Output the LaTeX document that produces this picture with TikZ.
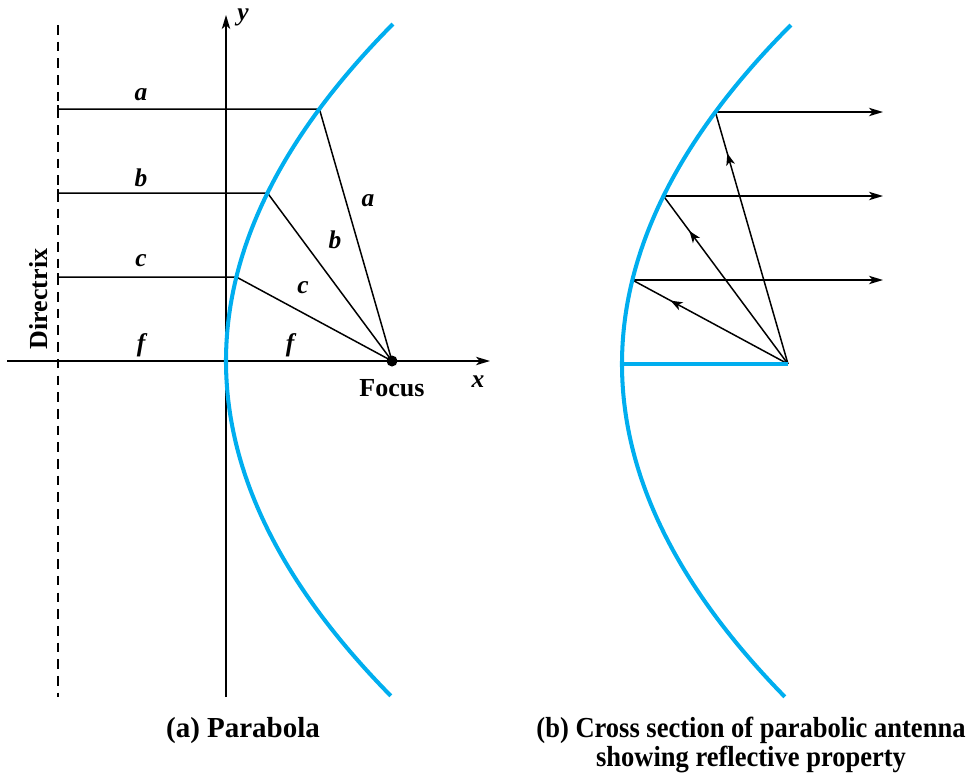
\documentclass[tikz,border=0pt]{standalone}
\usepackage{fontspec}
\setmainfont{Liberation Serif}
\newfontfamily\narrowserif[FakeStretch=0.915]{Liberation Serif}
\usetikzlibrary{arrows.meta,decorations.markings}
\definecolor{parab}{RGB}{0,174,239}
\begin{document}
\begin{tikzpicture}[x=0.02cm,y=-0.02cm,
  thinline/.style={line width=0.85pt},
  curve/.style={parab,line width=2.3pt},
  lbl/.style={font=\fontsize{14.5}{17}\selectfont\bfseries\itshape, inner sep=0pt},
  txt/.style={font=\fontsize{14.8}{17}\selectfont\bfseries, inner sep=0pt},
  captxt/.style={font=\fontsize{16.5}{16.5}\selectfont\bfseries, inner sep=0pt, align=center},
  captxtb/.style={font=\narrowserif\fontsize{16.5}{16.5}\selectfont\bfseries, inner sep=0pt, align=center},
  tip/.style={-{Stealth[length=8pt,width=4.8pt,inset=2.2pt]}},
  midarrow/.style={postaction={decorate},decoration={markings,
     mark=at position -0.86cm with {\arrow{Stealth[length=6.8pt,width=5pt,inset=1.9pt]}}}},
  directrix/.style={line width=0.85pt, dash pattern=on 5.5pt off 4pt}
]
\useasboundingbox (0,0) rectangle (975,778);

% ---------- (a) Parabola ----------
\coordinate (V) at (226,361);
\coordinate (F) at (392,361);
\coordinate (A) at (319.4,109);
\coordinate (B) at (267.5,193);
\coordinate (C) at (236.4,277);
\coordinate (DA) at (58,109);
\coordinate (DB) at (58,193);
\coordinate (DC) at (58,277);
\coordinate (Dtop) at (58,25);
\coordinate (Dbot) at (58,697);
\coordinate (Xl) at (7,361);
\coordinate (Xr) at (490,361);
\coordinate (Yb) at (226,697);
\coordinate (Yt) at (226,15);

\draw[directrix] (Dtop) -- (Dbot);
\foreach \p in {DA,DB,DC} \draw[thinline] ([yshift=0.08cm]\p) -- ([yshift=-0.08cm]\p);
\draw[thinline,tip] (Xl) -- (Xr);
\draw[thinline,tip] (Yb) -- (Yt);

\draw[thinline] (DA) -- (A) -- (F);
\draw[thinline] (DB) -- (B) -- (F);
\draw[thinline] (DC) -- (C) -- (F);

\draw[curve] plot[domain=-3.37:3.35, samples=120, smooth] ({226+14.7*\x*\x},{361+100*\x});
\fill (F) circle (5.5);

\node[lbl] (la1) at (141,95) {a};
\node[lbl] (lb1) at (141,178) {b};
\node[lbl] (lc1) at (141,261) {c};
\node[lbl] (lf1) at (141,345) {f};
\node[lbl] (la2) at (368,201) {a};
\node[lbl] (lb2) at (335,240) {b};
\node[lbl] (lc2) at (303,288) {c};
\node[lbl] (lf2) at (290,345) {f};
\node[lbl] (lx) at (478,382) {x};
\node[lbl] (ly) at (243,17) {y};
\node[txt] (focus) at (392,388) {Focus};
\node[txt,rotate=90] (dirlbl) at (39,299) {Directrix};

% ---------- (b) Antenna ----------
\coordinate (W) at (622,364);
\coordinate (G) at (788,364);
\coordinate (P1) at (715.4,112);
\coordinate (P2) at (663.5,196);
\coordinate (P3) at (632.4,280);
\coordinate (Q1) at (883,112);
\coordinate (Q2) at (883,196);
\coordinate (Q3) at (883,280);

\draw[thinline,midarrow] (G) -- (P1);
\draw[thinline,midarrow] (G) -- (P2);
\draw[thinline,midarrow] (G) -- (P3);
\draw[thinline,tip] (P1) -- (Q1);
\draw[thinline,tip] (P2) -- (Q2);
\draw[thinline,tip] (P3) -- (Q3);

\draw[curve] plot[domain=-3.39:3.33, samples=120, smooth] ({622+14.7*\x*\x},{364+100*\x});
\draw[curve] (W) -- (G);

% ---------- captions ----------
\node[captxt] (capa) at (243,731) {(a) Parabola};
\node[captxtb] (capb) at (751,745) {(b) Cross section of parabolic antenna\\showing reflective property};
\end{tikzpicture}
\end{document}
